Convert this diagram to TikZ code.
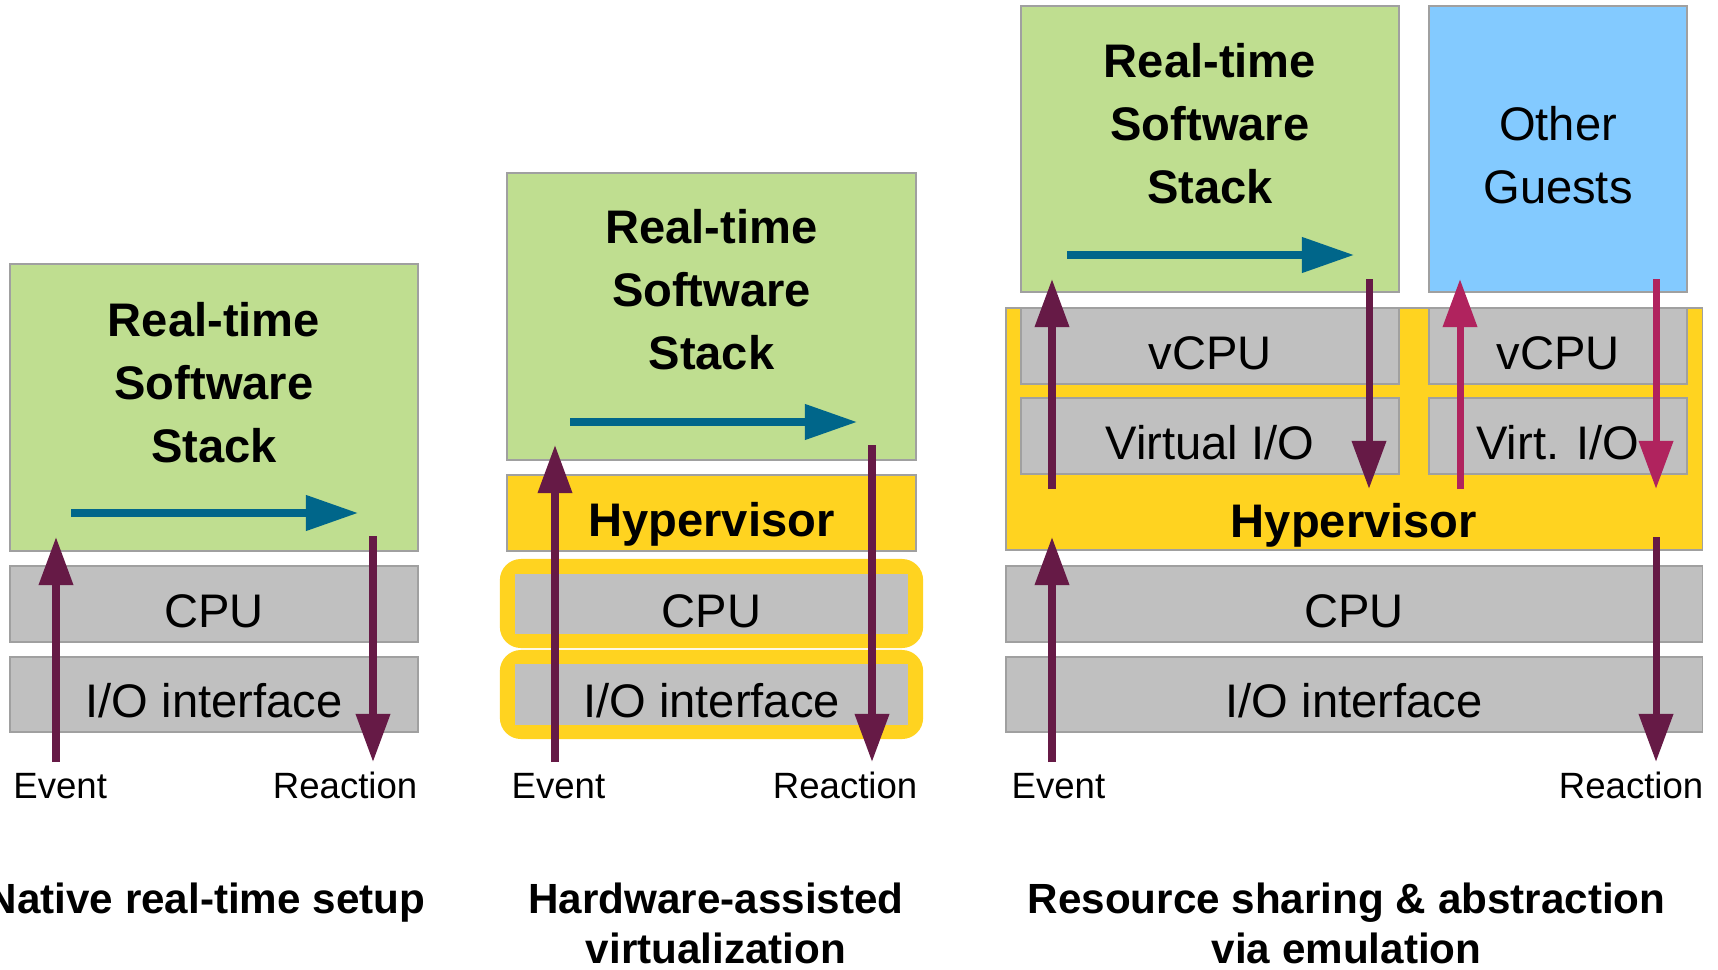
\documentclass[tikz,border=0pt]{standalone}
\usepackage{fontspec}
\setmainfont{Liberation Sans}
\usetikzlibrary{arrows.meta}
\definecolor{rtgreen}{HTML}{BFDE90}
\definecolor{guestblue}{HTML}{83CAFF}
\definecolor{hvyellow}{HTML}{FFD320}
\definecolor{hwgray}{HTML}{C0C0C0}
\definecolor{boxline}{HTML}{A0A0A0}
\definecolor{flowblue}{HTML}{00668A}
\definecolor{evpurple}{HTML}{661A46}
\definecolor{guestpink}{HTML}{B0235E}
\begin{document}
\begin{tikzpicture}[x=0.01cm,y=-0.01cm,
    layer/.style={draw=boxline,line width=0.4pt,fill=hwgray,inner sep=0pt,
      text height=13.1pt,text depth=0pt,font=\fontsize{13.4pt}{16pt}\selectfont},
    hvlayer/.style={layer,fill=hvyellow,font=\fontsize{13.4pt}{16pt}\selectfont\bfseries},
    stackbox/.style={draw=boxline,line width=0.4pt,fill=rtgreen,inner sep=0pt},
    frame/.style={fill=hvyellow,rounded corners=6pt,inner sep=0pt},
    title/.style={anchor=north,inner sep=0pt,align=center,font=\fontsize{13.4pt}{17.9pt}\selectfont\bfseries},
    tag/.style={inner sep=0pt,font=\fontsize{10.4pt}{12pt}\selectfont},
    caption/.style={anchor=north,inner sep=0pt,align=center,font=\fontsize{12pt}{14.3pt}\selectfont\bfseries},
    evarrow/.style={line width=2pt,evpurple,-{Triangle[length=13.7pt,width=9.4pt]}},
    gsarrow/.style={evarrow,guestpink},
    swarrow/.style={line width=2pt,flowblue,-{Triangle[length=14.8pt,width=9.7pt]}}]
  \useasboundingbox (0,0) rectangle (1718,970);

  % native setup
  \node[stackbox,minimum width=4.08cm,minimum height=2.87cm] (rts1) at (214,407.5) {};
  \node[title] (t1) at (214,302) {Real-time\\Software\\Stack};
  \node[layer,minimum width=4.08cm,minimum height=0.76cm] (cpu1) at (214,604) {CPU};
  \node[layer,minimum width=4.08cm,minimum height=0.75cm] (io1) at (214,694.5) {I/O interface};
  \coordinate (ev1) at (56,762);   \coordinate (ev1t) at (56,537);
  \coordinate (re1) at (373,536);  \coordinate (re1t) at (373,762);
  \coordinate (sw1) at (71,513);   \coordinate (sw1t) at (358,513);
  \draw[evarrow] (ev1) -- (ev1t);
  \draw[evarrow] (re1) -- (re1t);
  \draw[swarrow] (sw1) -- (sw1t);
  \node[tag,anchor=base west] (evt1) at (12.7,798) {Event};
  \node[tag,anchor=base east] (rea1) at (418,798) {Reaction};
  \node[caption] (cap1) at (206,882) {Native real-time setup};

  % hardware-assisted virtualization
  \node[stackbox,minimum width=4.09cm,minimum height=2.87cm] (rts2) at (711.5,316.5) {};
  \node[title] (t2) at (711.5,209) {Real-time\\Software\\Stack};
  \node[hvlayer,minimum width=4.09cm,minimum height=0.76cm] (hyp2) at (711.5,513) {Hypervisor};
  \node[frame,minimum width=4.23cm,minimum height=0.89cm] (cpuf2) at (711.5,603.5) {};
  \node[frame,minimum width=4.23cm,minimum height=0.89cm] (iof2) at (711.5,694.5) {};
  \node[layer,draw=none,minimum width=3.93cm,minimum height=0.60cm] (cpu2) at (711.5,604) {CPU};
  \node[layer,draw=none,minimum width=3.93cm,minimum height=0.61cm] (io2) at (711.5,694.5) {I/O interface};
  \coordinate (ev2) at (555,762);  \coordinate (ev2t) at (555,445);
  \coordinate (re2) at (872,445);  \coordinate (re2t) at (872,762);
  \coordinate (sw2) at (570,422);  \coordinate (sw2t) at (857,422);
  \draw[evarrow] (ev2) -- (ev2t);
  \draw[evarrow] (re2) -- (re2t);
  \draw[swarrow] (sw2) -- (sw2t);
  \node[tag,anchor=base west] (evt2) at (511,798) {Event};
  \node[tag,anchor=base east] (rea2) at (918,798) {Reaction};
  \node[caption] (cap2) at (716,882) {Hardware-assisted\\virtualization};

  % emulation
  \node[stackbox,minimum width=3.78cm,minimum height=2.86cm] (rts3) at (1210,149) {};
  \node[title] (t3) at (1210,42.5) {Real-time\\Software\\Stack};
  \node[stackbox,fill=guestblue,minimum width=2.58cm,minimum height=2.86cm] (gst3) at (1558,149) {};
  \node[title,font=\fontsize{13.4pt}{17.9pt}\selectfont] (t3b) at (1558,106) {Other\\Guests};
  \node[layer,fill=hvyellow,minimum width=6.96cm,minimum height=2.42cm] (hyp3) at (1354,429) {};
  \node[layer,minimum width=3.78cm,minimum height=0.76cm] (vcpu3) at (1210,346) {vCPU};
  \node[layer,minimum width=3.78cm,minimum height=0.76cm] (vio3) at (1210,436) {Virtual I/O};
  \node[layer,minimum width=2.58cm,minimum height=0.76cm] (vcpu3b) at (1558,346) {vCPU};
  \node[layer,minimum width=2.58cm,minimum height=0.76cm] (vio3b) at (1558,436) {Virt. I/O};
  \node[tag,anchor=base,font=\fontsize{13.4pt}{16pt}\selectfont\bfseries] (hyt3) at (1354,537) {Hypervisor};
  \node[layer,minimum width=6.96cm,minimum height=0.76cm] (cpu3) at (1354,604) {CPU};
  \node[layer,minimum width=6.96cm,minimum height=0.75cm] (io3) at (1354,694.5) {I/O interface};
  \coordinate (ev3) at (1052,489);  \coordinate (ev3t) at (1052,279);
  \coordinate (re3) at (1369,279);  \coordinate (re3t) at (1369,489);
  \coordinate (sw3) at (1067,255);  \coordinate (sw3t) at (1354,255);
  \coordinate (gu3) at (1460,489);  \coordinate (gu3t) at (1460,279);
  \coordinate (gd3) at (1656,279);  \coordinate (gd3t) at (1656,489);
  \coordinate (hw3) at (1052,762);  \coordinate (hw3t) at (1052,537);
  \coordinate (ho3) at (1656,537);  \coordinate (ho3t) at (1656,762);
  \draw[evarrow] (ev3) -- (ev3t);
  \draw[evarrow] (re3) -- (re3t);
  \draw[swarrow] (sw3) -- (sw3t);
  \draw[gsarrow] (gu3) -- (gu3t);
  \draw[gsarrow] (gd3) -- (gd3t);
  \draw[evarrow] (hw3) -- (hw3t);
  \draw[evarrow] (ho3) -- (ho3t);
  \node[tag,anchor=base west] (evt3) at (1011,798) {Event};
  \node[tag,anchor=base east] (rea3) at (1704,798) {Reaction};
  \node[caption] (cap3) at (1346.6,882) {Resource sharing \& abstraction\\via emulation};
\end{tikzpicture}
\end{document}
